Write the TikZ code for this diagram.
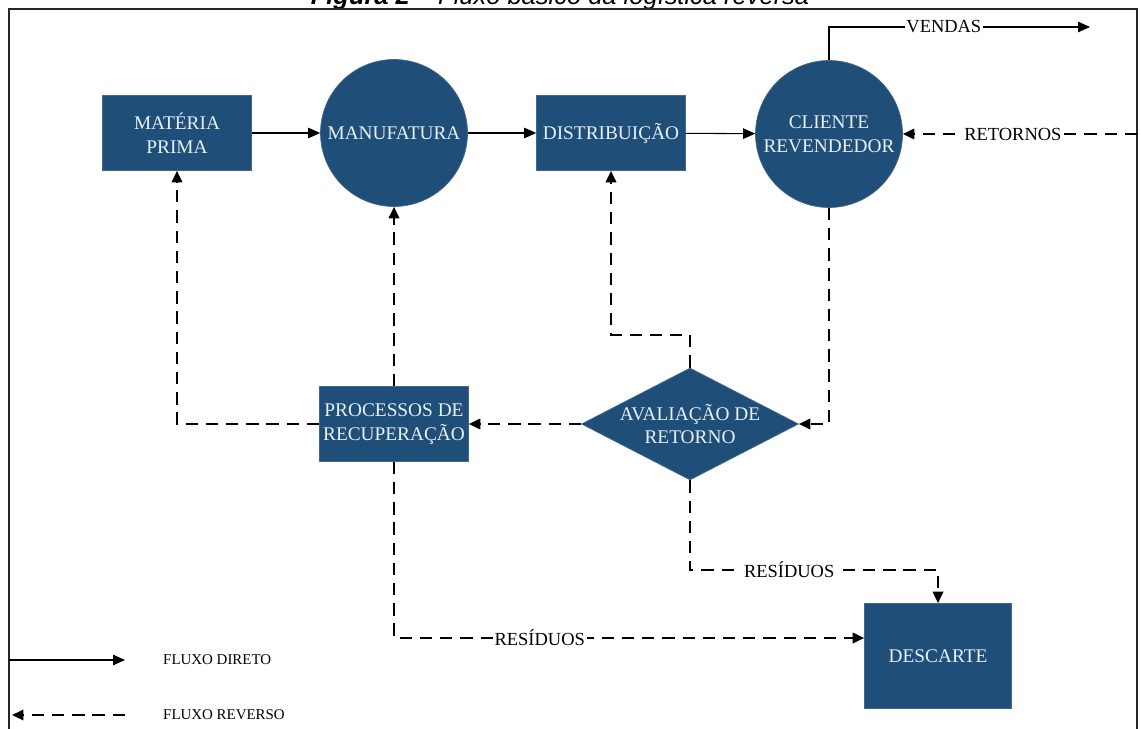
\documentclass[tikz,border=0pt]{standalone}
\usepackage{fontspec}
\setmainfont{Liberation Serif}
\newfontfamily\titlefont{Liberation Sans}
\usetikzlibrary{arrows.meta,shapes.geometric}

\definecolor{azul}{RGB}{31,78,121}
\definecolor{claro}{RGB}{232,240,248}

\tikzset{
  bloco/.style={fill=azul, draw=azul!85!white, text=claro, align=center,
    font=\fontsize{11}{13.5}\selectfont, inner sep=0pt},
  caixa/.style={bloco, rectangle, minimum width=2.98cm, minimum height=1.5cm},
  roda/.style={bloco, circle, minimum size=2.94cm},
  direto/.style={line width=0.6pt, -{Triangle[length=2.4mm,width=2.1mm]}},
  reverso/.style={line width=1.1pt, dash pattern=on 7pt off 4.5pt,
    -{Triangle[length=2.3mm,width=2.1mm]}},
  rotulo/.style={fill=white, inner sep=1pt, font=\fontsize{10.5}{12}\selectfont},
  legenda/.style={anchor=west, font=\fontsize{8.5}{10}\selectfont}
}

\begin{document}
\begin{tikzpicture}[x=0.02cm, y=-0.02cm]
  \useasboundingbox (0,0) rectangle (1141,729);

  % titulo (cortado no topo)
  \node[anchor=base, font=\titlefont\fontsize{14.5}{16}\selectfont\itshape] (titulo) at (560,5)
    {\textbf{Figura 2} – Fluxo básico da logística reversa};

  % moldura
  \draw[line width=1.2pt, draw=black!85] (9,9) rectangle (1137,760);

  % blocos
  \node[caixa] (materia) at (177,133) {MATÉRIA\\PRIMA};
  \node[roda] (manuf) at (394,133) {MANUFATURA};
  \node[caixa] (distrib) at (611,133) {DISTRIBUIÇÃO};
  \node[roda] (cliente) at (829,134) {CLIENTE\\REVENDEDOR};
  \node[bloco, diamond, minimum width=4.34cm, minimum height=2.24cm] (aval) at (690,424) {};
  \node[text=claro, align=center, font=\fontsize{11}{13.5}\selectfont] (avaltxt) at (aval)
    {AVALIAÇÃO DE\\RETORNO};
  \node[caixa] (proc) at (394,424) {PROCESSOS DE\\RECUPERAÇÃO};
  \node[caixa, minimum width=2.94cm, minimum height=2.1cm] (descarte) at (938,656) {DESCARTE};

  % fluxo direto
  \coordinate (vendas) at (1090,27);
  \draw[direto] (materia) -- (manuf);
  \draw[direto] (manuf) -- (distrib);
  \draw[direto] (distrib) -- (cliente);
  \draw[direto] (cliente.north) |- node[rotulo, pos=0.72] {VENDAS} (vendas);

  % fluxo reverso
  \coordinate (fimret) at (1137,134);
  \coordinate (dobra) at (690,335);
  \coordinate (res) at (690,570);
  \draw[reverso] (fimret) -- node[rotulo, pos=0.53] {RETORNOS} (cliente.east);
  \draw[reverso] (cliente.south) |- (aval.east);
  \draw[reverso] (aval.north) -- (dobra) -| (distrib.south);
  \draw[reverso] (aval.west) -- (proc.east);
  \draw[reverso] (proc.north) -- (manuf.south);
  \draw[reverso] (proc.west) -| (materia.south);
  \draw[reverso] (aval.south) -- (res) -| node[rotulo, pos=0.2] {RESÍDUOS} (descarte.north);
  \draw[reverso] (proc.south) |- node[rotulo, pos=0.655] {RESÍDUOS} ([yshift=0.36cm]descarte.west);

  % legenda
  \coordinate (ld1) at (9,660);
  \coordinate (ld2) at (125,660);
  \coordinate (lr1) at (125,715);
  \coordinate (lr2) at (12,715);
  \draw[direto] (ld1) -- (ld2);
  \draw[reverso] (lr1) -- (lr2);
  \node[legenda] (ldireto) at (157,660) {FLUXO DIRETO};
  \node[legenda] (lreverso) at (157,715) {FLUXO REVERSO};
\end{tikzpicture}
\end{document}
